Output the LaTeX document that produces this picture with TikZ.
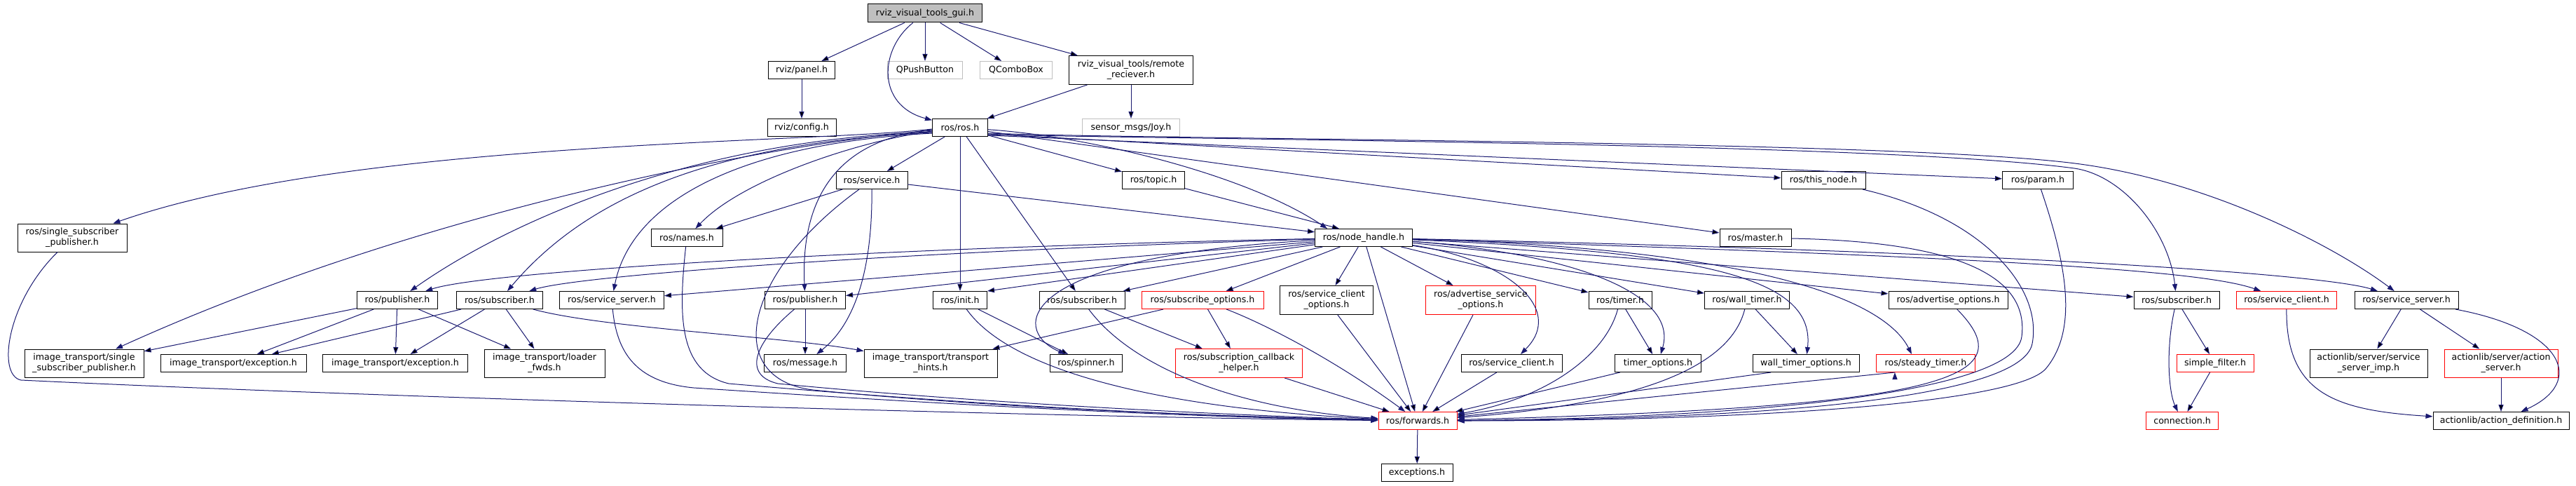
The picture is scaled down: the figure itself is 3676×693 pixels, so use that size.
\documentclass[tikz,border=0pt]{standalone}
\usepackage{fontspec}
\setmainfont{DejaVu Sans}
\usetikzlibrary{arrows.meta,positioning}
\definecolor{edgeblue}{HTML}{191970}
\definecolor{extgray}{HTML}{BFBFBF}

\begin{document}
\begin{tikzpicture}[x=1pt,y=-1pt,
	file_node/.style={rectangle,draw=black,line width=1pt,fill=white,minimum height=25pt,inner sep=2pt,align=center,font=\fontsize{12.6}{15}\selectfont},
	top_node/.style={file_node,fill=extgray},
	ext_node/.style={file_node,draw=extgray},
	cut_node/.style={file_node,draw=red},
	two_line/.style={minimum height=41pt},
	inc_edge/.style={draw=edgeblue,line width=1pt,-{Triangle[length=10pt,width=7pt]}}]
				\useasboundingbox (0,0) rectangle (3676,693);
				% row 0 to 3
				\node[top_node,minimum width=163pt,minimum height=26pt](gui) at (1320,19){rviz\_visual\_tools\_gui.h};
				\node[file_node,minimum width=95pt](panel) at (1144,100){rviz/panel.h};
				\node[ext_node,minimum width=107pt](qpush) at (1320,100){QPushButton};
				\node[ext_node,minimum width=103pt](qcombo) at (1450,100){QComboBox};
				\node[file_node,two_line,minimum width=177pt](remote) at (1614,100){rviz\_visual\_tools/remote\\\_reciever.h};
				\node[file_node,minimum width=98pt](config) at (1144,182){rviz/config.h};
				\node[file_node,minimum width=79pt](ros_h) at (1370,182){ros/ros.h};
				\node[ext_node,minimum width=139pt](joy) at (1614,182){sensor\_msgs/Joy.h};
				\node[file_node,minimum width=102pt](service) at (1244,257){ros/service.h};
				\node[file_node,minimum width=89pt](topic) at (1646,257){ros/topic.h};
				\node[file_node,minimum width=120pt](this_node) at (2602,257){ros/this\_node.h};
				\node[file_node,minimum width=101pt](param) at (2908,257){ros/param.h};
				% row 4
				\node[file_node,minimum width=156pt,minimum height=40pt](single_pub) at (103,339){ros/single\_subscriber\\\_publisher.h};
				\node[file_node,minimum width=102pt](names) at (980,339){ros/names.h};
				\node[file_node,minimum width=139pt](node_handle) at (1946,339){ros/node\_handle.h};
				\node[file_node,minimum width=102pt](master) at (2505,339){ros/master.h};
				% row 5
				\node[file_node,minimum width=115pt](pub_a) at (567,428){ros/publisher.h};
				\node[file_node,minimum width=123pt](sub_a) at (713,428){ros/subscriber.h};
				\node[file_node,minimum width=149pt](srv_a) at (873,428){ros/service\_server.h};
				\node[file_node,minimum width=115pt](pub_b) at (1149,428){ros/publisher.h};
				\node[file_node,minimum width=77pt](init) at (1370,428){ros/init.h};
				\node[file_node,minimum width=122pt](sub_b) at (1544,428){ros/subscriber.h};
				\node[cut_node,minimum width=174pt](sub_opt) at (1716,428){ros/subscribe\_options.h};
				\node[file_node,two_line,minimum width=133pt](cli_opt) at (1893,428){ros/service\_client\\\_options.h};
				\node[cut_node,two_line,minimum width=157pt](adv_srv_opt) at (2113,428){ros/advertise\_service\\\_options.h};
				\node[file_node,minimum width=90pt](timer) at (2312,428){ros/timer.h};
				\node[file_node,minimum width=121pt](wall_timer) at (2493,428){ros/wall\_timer.h};
				\node[file_node,minimum width=170pt](adv_opt) at (2780,428){ros/advertise\_options.h};
				\node[file_node,minimum width=122pt](sub_c) at (3106,428){ros/subscriber.h};
				\node[cut_node,minimum width=143pt](cli_b) at (3263,428){ros/service\_client.h};
				\node[file_node,minimum width=148pt](srv_b) at (3434,428){ros/service\_server.h};
				% row 6
				\node[file_node,minimum width=170pt,minimum height=40pt](it_single) at (120,518){image\_transport/single\\\_subscriber\_publisher.h};
				\node[file_node,minimum width=208pt](it_exc_a) at (333,518){image\_transport/exception.h};
				\node[file_node,minimum width=207pt](it_exc_b) at (564,518){image\_transport/exception.h};
				\node[file_node,minimum width=172pt,minimum height=40pt](it_loader) at (777,518){image\_transport/loader\\\_fwds.h};
				\node[file_node,minimum width=117pt](message) at (1149,518){ros/message.h};
				\node[file_node,minimum width=190pt,minimum height=40pt](it_hints) at (1328,518){image\_transport/transport\\\_hints.h};
				\node[file_node,minimum width=103pt](spinner) at (1550,518){ros/spinner.h};
				\node[cut_node,two_line,minimum width=181pt](cb_helper) at (1768,518){ros/subscription\_callback\\\_helper.h};
				\node[file_node,minimum width=144pt](cli_a) at (2157,518){ros/service\_client.h};
				\node[file_node,minimum width=123pt](timer_opt) at (2366,518){timer\_options.h};
				\node[file_node,minimum width=152pt](wall_opt) at (2577,518){wall\_timer\_options.h};
				\node[cut_node,minimum width=141pt](steady) at (2748,518){ros/steady\_timer.h};
				\node[cut_node,minimum width=110pt](filter) at (3161,518){simple\_filter.h};
				\node[file_node,minimum width=168pt,minimum height=40pt](srv_imp) at (3380,518){actionlib/server/service\\\_server\_imp.h};
				\node[cut_node,minimum width=162pt,minimum height=40pt](act_srv) at (3569,518){actionlib/server/action\\\_server.h};
				% row 7 and 8
				\node[cut_node,minimum width=112pt](forwards) at (2023,600){ros/forwards.h};
				\node[cut_node,minimum width=103pt](connection) at (3114,600){connection.h};
				\node[file_node,minimum width=194pt](act_def) at (3569,600){actionlib/action\_definition.h};
				\node[file_node,minimum width=102pt](exceptions) at (2022,674){exceptions.h};
				% straight includes
				\path[inc_edge]
				(gui) edge (panel)
				(gui) edge (qpush)
				(gui) edge (qcombo)
				(gui) edge (remote)
				(panel) edge (config)
				(remote) edge (ros_h)
				(remote) edge (joy)
				(ros_h) edge (service)
				(ros_h) edge (topic)
				(ros_h) edge (init)
				(ros_h) edge (sub_b)
				(ros_h) edge (master)
				([yshift=-9pt]ros_h.east) edge (this_node)
				([yshift=-11pt]ros_h.east) edge (param)
				(service) edge (names)
				(service) edge (node_handle)
				(topic) edge ([xshift=-35pt]node_handle.north)
				(node_handle) edge (srv_a)
				(node_handle) edge (pub_b)
				(node_handle) edge (init.north east)
				(node_handle) edge (sub_b)
				(node_handle) edge (sub_opt)
				(node_handle) edge (cli_opt)
				(node_handle) edge (forwards)
				(node_handle) edge (adv_srv_opt)
				(node_handle) edge (timer)
				(node_handle) edge (wall_timer)
				(node_handle) edge (adv_opt)
				(node_handle) edge (sub_c)
				(pub_a) edge (it_single)
				(pub_a) edge (it_exc_a)
				(pub_a) edge (it_exc_b)
				(pub_a) edge (it_loader)
				(sub_a) edge (it_exc_a)
				(sub_a) edge (it_exc_b)
				(sub_a) edge (it_loader)
				(pub_b) edge (message)
				(init) edge (spinner)
				(sub_b) edge (cb_helper)
				(sub_opt) edge (cb_helper)
				(sub_opt) edge (it_hints)
				(cb_helper) edge (forwards)
				(cli_opt) edge (forwards)
				(adv_srv_opt) edge (forwards)
				(cli_a) edge (forwards)
				(timer_opt) edge (forwards)
				([xshift=-50pt]wall_opt.south) edge (forwards)
				([xshift=-44pt]steady.south) edge (forwards)
				(timer) edge (timer_opt)
				(wall_timer) edge (wall_opt)
				(sub_c) edge (filter)
				(filter) edge (connection)
				(srv_b) edge (srv_imp)
				(srv_b) edge (act_srv)
				(act_srv) edge (act_def)
				(forwards) edge (exceptions);
				% curved includes
				\draw[inc_edge] (gui) .. controls (1255,70) and (1250,150) .. (ros_h);
				\draw[inc_edge] ([yshift=-2pt]ros_h.west) .. controls (1150,205) and (500,200) .. (single_pub);
				\draw[inc_edge] ([yshift=-4pt]ros_h.west) .. controls (1100,205) and (600,300) .. (it_single);
				\draw[inc_edge] ([yshift=-6pt]ros_h.west) .. controls (980,200) and (720,320) .. (pub_a);
				\draw[inc_edge] ([yshift=-7pt]ros_h.west) .. controls (1000,205) and (830,290) .. (sub_a);
				\draw[inc_edge] ([yshift=-8pt]ros_h.west) .. controls (1050,205) and (900,290) .. (srv_a);
				\draw[inc_edge] ([yshift=-5pt]ros_h.west) .. controls (1230,200) and (1060,255) .. (names);
				\draw[inc_edge] ([yshift=-3pt]ros_h.west) .. controls (1180,200) and (1143,300) .. (pub_b);
				\draw[inc_edge] (ros_h) .. controls (1560,195) and (1780,250) .. ([xshift=-52pt]node_handle.north);
				\draw[inc_edge] ([yshift=-10pt]ros_h.east) .. controls (1800,200) and (2700,205) .. (2960,240) .. controls (3030,250) and (3095,330) .. (sub_c);
				\draw[inc_edge] ([yshift=-8pt]ros_h.east) .. controls (1700,200) and (2700,200) .. (2961,233) .. controls (3150,257) and (3330,350) .. (srv_b);
				\draw[inc_edge] (service) .. controls (1245,380) and (1222,460) .. (message);
				\draw[inc_edge] (node_handle) .. controls (1300,352) and (700,385) .. (pub_a);
				\draw[inc_edge] (node_handle) .. controls (1300,358) and (830,392) .. (sub_a);
				\draw[inc_edge] (node_handle) .. controls (1450,365) and (1440,470) .. (spinner);
				\draw[inc_edge] (node_handle) .. controls (2150,370) and (2235,440) .. (cli_a);
				\draw[inc_edge] (node_handle) .. controls (2250,362) and (2395,420) .. (timer_opt);
				\draw[inc_edge] (node_handle) .. controls (2450,360) and (2590,400) .. (wall_opt);
				\draw[inc_edge] (node_handle) .. controls (2520,355) and (2690,430) .. ([xshift=-20pt]steady.north);
				\draw[inc_edge] (node_handle) .. controls (2900,368) and (3150,388) .. (cli_b);
				\draw[inc_edge] (node_handle) .. controls (2900,360) and (3320,392) .. (srv_b);
				\draw[inc_edge] (sub_a) .. controls (860,468) and (1120,480) .. (it_hints);
				\draw[inc_edge] (sub_c) .. controls (3090,500) and (3095,560) .. (connection);
				\draw[inc_edge] (cli_b) .. controls (3262,560) and (3330,585) .. (act_def);
				\draw[inc_edge] (srv_b) .. controls (3660,470) and (3690,545) .. (act_def);
				% into ros/forwards.h
				\draw[inc_edge] (single_pub) .. controls (10,430) and (-5,535) .. (30,542) .. controls (500,565) and (1500,595) .. (forwards);
				\draw[inc_edge] (srv_a) .. controls (880,500) and (905,545) .. (990,553) .. controls (1400,580) and (1700,595) .. (forwards);
				\draw[inc_edge] (names) .. controls (968,450) and (968,530) .. (1040,547) .. controls (1400,578) and (1700,594) .. (forwards);
				\draw[inc_edge] (service) .. controls (1060,390) and (1030,540) .. (1160,556) .. controls (1450,585) and (1800,595) .. (forwards);
				\draw[inc_edge] (pub_b) .. controls (1075,490) and (1060,535) .. (1110,547) .. controls (1400,575) and (1750,592) .. (forwards);
				\draw[inc_edge] (init) .. controls (1450,540) and (1700,585) .. (forwards);
				\draw[inc_edge] (sub_b) .. controls (1620,530) and (1780,585) .. (forwards);
				\draw[inc_edge] (sub_opt) .. controls (1800,460) and (1900,510) .. (forwards);
				\draw[inc_edge] (timer) .. controls (2290,510) and (2200,570) .. (forwards);
				\draw[inc_edge] (wall_timer) .. controls (2470,520) and (2350,575) .. (forwards);
				\draw[inc_edge] (adv_opt) .. controls (2890,540) and (2780,580) .. (forwards);
				\draw[inc_edge] (master) .. controls (2810,345) and (2895,400) .. (2885,480) .. controls (2875,560) and (2500,596) .. (forwards);
				\draw[inc_edge] (this_node) .. controls (2830,310) and (2915,410) .. (2900,490) .. controls (2885,570) and (2500,598) .. (forwards);
				\draw[inc_edge] (param) .. controls (2950,380) and (2965,470) .. (2920,525) .. controls (2880,575) and (2500,600) .. (forwards);
			\end{tikzpicture}
\end{document}
